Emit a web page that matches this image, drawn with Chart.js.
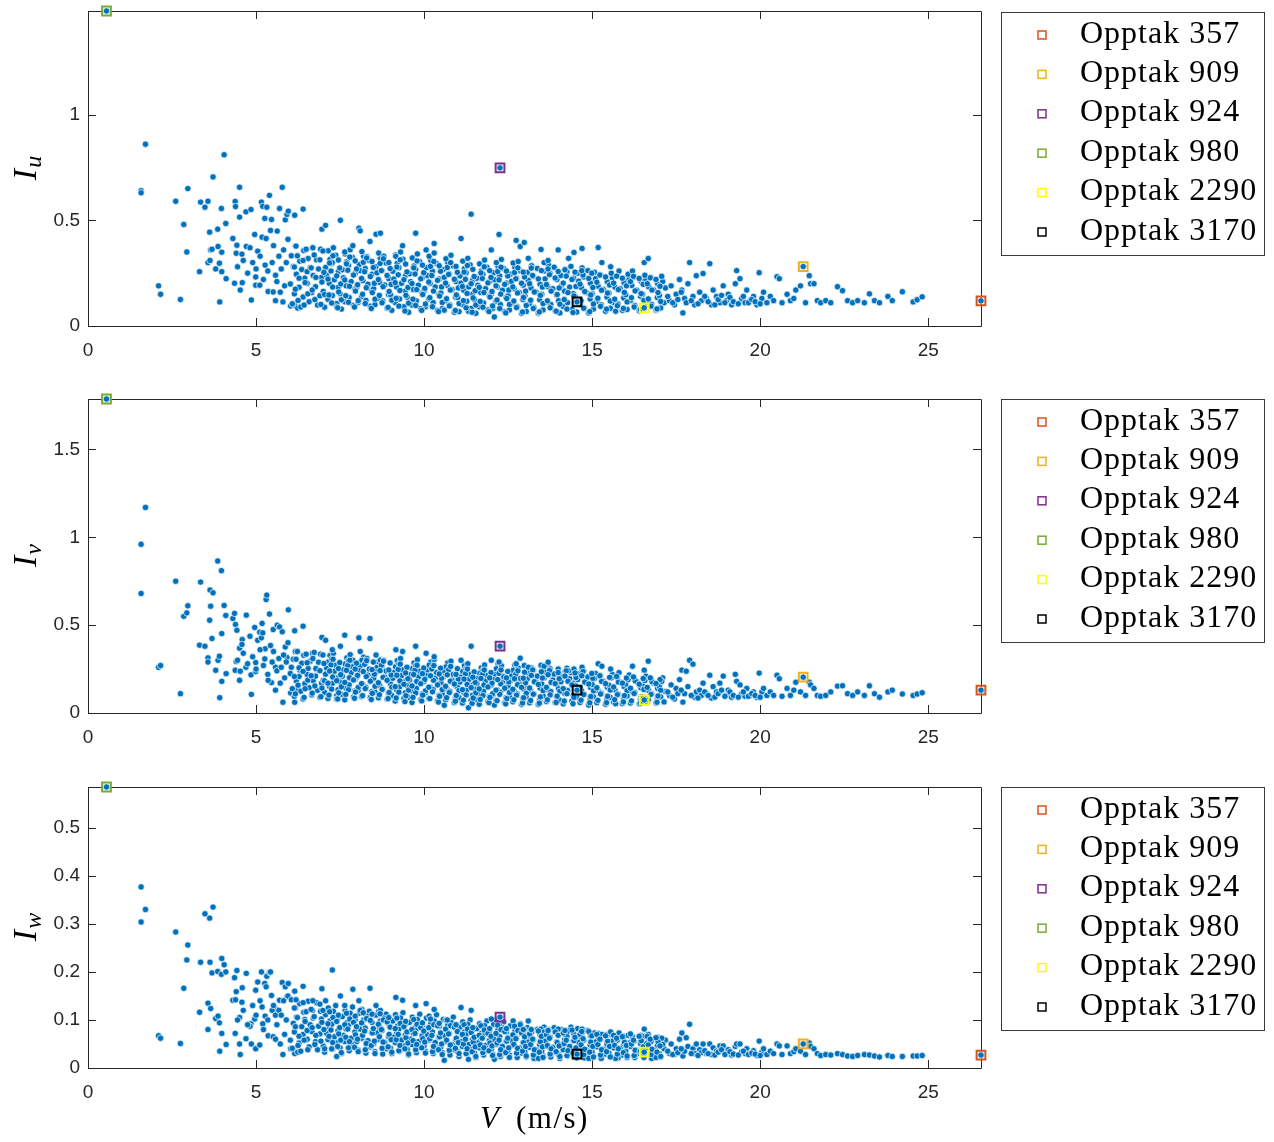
<!DOCTYPE html>
<html>
<head>
<meta charset="utf-8">
<script src="https://cdn.jsdelivr.net/npm/chart.js@4.4.1/dist/chart.umd.min.js"></script>
<style>
  html, body { margin: 0; padding: 0; background: #fff; overflow: hidden; }
  #page { position: relative; width: 1274px; height: 1142px; overflow: hidden; }
  canvas { position: absolute; left: 0; }
</style>
</head>
<body>
<div id="page">
  <canvas id="chartU" width="1274" height="389" style="top:-9px"></canvas>
  <canvas id="chartV" width="1274" height="391" style="top:379px"></canvas>
  <canvas id="chartW" width="1274" height="375" style="top:767px"></canvas>
</div>
<script>
// Mean wind speed V (m/s) of every recording
const speed = [
  // low wind, scattered
  1.58,1.58,1.71,2.10,2.16,2.61,2.75,2.85,2.94,2.97,
  3.32,3.35,3.48,3.57,3.57,3.62,3.63,3.65,3.69,3.72,
  3.80,3.86,3.87,3.91,3.92,3.97,3.98,3.98,4.05,4.10,
  4.11,4.31,4.36,4.38,4.39,4.41,4.43,4.51,4.51,4.53,
  4.59,4.58,4.70,4.71,4.85,4.86,4.82,4.96,4.99,4.99,
  5.05,5.11,5.16,5.18,5.20,5.26,5.27,5.30,5.32,5.40,
  5.43,5.46,5.36,5.51,5.63,5.70,5.78,5.80,5.87,5.92,
  5.96,6.15,6.40,6.03,6.15,6.24,
  4.45,4.62,4.75,4.90,5.00,5.12,5.22,5.35,5.48,5.58,
  5.52,5.62,5.68,5.75,5.82,5.85,5.90,5.95,5.58,5.72,
  // 6 - 7 m/s
  6.08,6.14,6.02,6.20,6.11,6.05,6.17,
  6.33,6.40,6.28,6.45,6.36,6.30,6.42,
  6.58,6.66,6.52,6.70,6.61,6.55,6.68,
  6.83,6.90,6.77,6.95,6.86,6.80,6.92,
  // 7 - 9 m/s
  7.04,7.14,7.00,7.18,7.10,7.07,7.20,7.15,
  7.40,7.27,7.44,7.33,7.45,7.25,7.37,7.30,
  7.54,7.64,7.50,7.68,7.60,7.57,7.70,7.65,
  7.90,7.77,7.94,7.83,7.95,7.75,7.87,7.80,
  8.04,8.14,8.00,8.18,8.10,8.07,8.20,8.15,
  8.40,8.27,8.44,8.33,8.45,8.25,8.37,8.30,
  8.54,8.64,8.50,8.68,8.60,8.57,8.70,8.65,
  8.90,8.77,8.94,8.83,8.95,8.75,8.87,8.80,
  // 9 - 11 m/s
  9.04,9.14,9.00,9.18,9.10,9.07,9.20,9.15,
  9.40,9.27,9.44,9.33,9.45,9.25,9.37,9.30,
  9.54,9.64,9.50,9.68,9.60,9.57,9.70,9.65,
  9.90,9.77,9.94,9.83,9.95,9.75,9.87,9.80,
  10.04,10.14,10.00,10.18,10.10,10.07,10.20,10.15,
  10.40,10.27,10.44,10.33,10.45,10.25,10.37,10.30,
  10.54,10.64,10.50,10.68,10.60,10.57,10.70,10.65,
  10.90,10.77,10.94,10.83,10.95,10.75,10.87,10.80,
  // 11 - 13 m/s
  11.04,11.14,11.00,11.18,11.10,11.07,11.20,11.15,
  11.40,11.27,11.44,11.33,11.45,11.25,11.37,11.30,
  11.54,11.64,11.50,11.68,11.60,11.57,11.70,11.65,
  11.90,11.77,11.94,11.83,11.95,11.75,11.87,11.80,
  12.04,12.14,12.00,12.18,12.10,12.07,12.20,12.15,
  12.40,12.27,12.44,12.33,12.45,12.25,12.37,12.30,
  12.54,12.64,12.50,12.68,12.60,12.57,12.70,12.65,
  12.90,12.77,12.94,12.83,12.95,12.75,12.87,12.80,
  // 13 - 15 m/s
  13.04,13.14,13.00,13.18,13.10,13.07,13.20,
  13.40,13.27,13.44,13.33,13.45,13.25,13.37,
  13.54,13.64,13.50,13.68,13.60,13.57,13.70,
  13.90,13.77,13.94,13.83,13.95,13.75,13.87,
  14.04,14.14,14.00,14.18,14.10,14.07,14.20,
  14.40,14.27,14.44,14.33,14.45,14.25,14.37,
  14.54,14.64,14.50,14.68,14.60,14.57,14.70,
  14.90,14.77,14.94,14.83,14.95,14.75,14.87,
  // 15 - 17 m/s
  15.04,15.14,15.00,15.18,15.10,15.07,
  15.40,15.27,15.44,15.33,15.45,15.25,
  15.54,15.64,15.50,15.68,15.60,15.57,
  15.90,15.77,15.94,15.83,15.95,15.75,
  16.04,16.14,16.00,16.18,16.10,16.07,
  16.40,16.27,16.44,16.33,16.45,16.25,
  16.54,16.64,16.50,16.68,16.60,16.57,
  16.90,16.77,16.94,16.83,16.95,16.75,
  17.04,17.14,17.00,17.18,17.10,17.07,
  // points above the cloud
  6.96,7.07,7.27,7.51,7.64,7.88,8.06,8.10,8.39,8.57,
  8.70,9.16,9.36,9.75,10.06,10.30,11.10,11.40,12.00,12.23,
  12.74,12.86,12.98,13.10,13.48,13.57,13.69,13.99,14.30,14.46,
  14.70,15.18,15.29,15.55,15.80,16.20,16.55,16.67,
  // points below the cloud
  12.09,13.40,14.90,11.32,10.60,7.40,15.70,16.90,
  // high wind tail
  17.30,17.35,17.45,17.50,17.60,17.67,17.70,17.75,17.80,17.85,
  17.90,18.00,18.05,18.10,18.20,18.25,18.30,18.40,18.50,18.55,
  18.60,18.70,18.80,18.90,19.00,19.05,19.15,19.26,19.30,19.40,
  19.45,19.55,19.60,19.70,19.80,19.90,19.97,20.05,20.10,20.20,
  20.30,20.40,20.50,20.57,20.65,20.80,20.90,21.00,21.06,21.20,
  21.35,21.46,21.50,21.60,21.70,21.80,21.95,22.10,22.30,22.45,
  22.60,22.75,22.90,23.10,23.25,23.40,23.55,23.80,23.93,24.23,
  24.55,24.67,24.82,
  17.25,17.40,17.55,17.65,17.95,18.15,18.35,18.45,18.65,18.75,
  18.85,18.95,19.10,19.20,19.35,19.50,19.65,19.75,19.85,20.00,
  // in-between recordings of the dense cloud
  6.25,6.17,6.28,6.14,6.23,6.19,
  6.43,6.54,6.46,6.52,6.40,6.49,
  6.75,6.67,6.78,6.64,6.73,6.69,
  6.93,7.04,6.96,7.02,6.90,6.99,
  7.25,7.17,7.28,7.14,7.23,7.19,7.29,
  7.43,7.54,7.46,7.52,7.40,7.49,7.45,
  7.75,7.67,7.78,7.64,7.73,7.69,7.79,
  7.93,8.04,7.96,8.02,7.90,7.99,7.95,
  8.25,8.17,8.28,8.14,8.23,8.19,8.29,
  8.43,8.54,8.46,8.52,8.40,8.49,8.45,
  8.75,8.67,8.78,8.64,8.73,8.69,8.79,
  8.93,9.04,8.96,9.02,8.90,8.99,8.95,
  9.25,9.17,9.28,9.14,9.23,9.19,9.29,
  9.43,9.54,9.46,9.52,9.40,9.49,9.45,
  9.75,9.67,9.78,9.64,9.73,9.69,9.79,
  9.93,10.04,9.96,10.02,9.90,9.99,9.95,
  10.25,10.17,10.28,10.14,10.23,10.19,10.29,
  10.43,10.54,10.46,10.52,10.40,10.49,10.45,
  10.75,10.67,10.78,10.64,10.73,10.69,10.79,
  10.93,11.04,10.96,11.02,10.90,10.99,10.95,
  11.25,11.17,11.28,11.14,11.23,11.19,11.29,
  11.43,11.54,11.46,11.52,11.40,11.49,11.45,
  11.75,11.67,11.78,11.64,11.73,11.69,11.79,
  11.93,12.04,11.96,12.02,11.90,11.99,11.95,
  12.25,12.17,12.28,12.14,12.23,12.19,12.29,
  12.43,12.54,12.46,12.52,12.40,12.49,12.45,
  12.75,12.67,12.78,12.64,12.73,12.69,12.79,
  12.93,13.04,12.96,13.02,12.90,12.99,12.95,
  13.25,13.17,13.28,13.14,13.23,13.19,
  13.43,13.54,13.46,13.52,13.40,13.49,
  13.75,13.67,13.78,13.64,13.73,13.69,
  13.93,14.04,13.96,14.02,13.90,13.99,
  14.25,14.17,14.28,14.14,14.23,14.19,
  14.43,14.54,14.46,14.52,14.40,14.49,
  14.75,14.67,14.78,14.64,14.73,14.69,
  14.93,15.04,14.96,15.02,14.90,14.99,
  15.25,15.17,15.28,15.14,15.23,
  15.43,15.54,15.46,15.52,15.40,
  15.75,15.67,15.78,15.64,15.73,
  15.93,16.04,15.96,16.02,15.90,
  16.25,16.17,16.28,16.14,16.23,
  16.43,16.54,16.46,16.52,16.40,
  16.75,16.67,16.78,16.64,16.73,
  16.93,17.04,16.96,17.02,16.90
];

// Turbulence intensity, longitudinal
const iu = [
  0.64,0.63,0.86,0.19,0.15,0.59,0.125,0.48,0.35,0.65,
  0.257,0.586,0.562,0.59,0.30,0.444,0.31,0.36,0.363,0.705,
  0.27,0.458,0.376,0.297,0.114,0.556,0.349,0.257,0.81,0.485,
  0.224,0.414,0.202,0.589,0.565,0.344,0.382,0.656,0.515,0.17,
  0.205,0.34,0.54,0.376,0.551,0.123,0.37,0.433,0.232,0.193,
  0.354,0.193,0.586,0.42,0.566,0.509,0.288,0.414,0.562,0.618,
  0.452,0.504,0.163,0.161,0.449,0.556,0.656,0.114,0.502,0.528,
  0.543,0.524,0.553,0.095,0.098,0.085,
  0.28,0.31,0.25,0.30,0.27,0.33,0.22,0.26,0.30,0.24,
  0.38,0.21,0.33,0.27,0.36,0.19,0.30,0.41,0.12,0.16,

  0.105,0.152,0.199,0.245,0.282,0.332,0.378,
  0.09,0.137,0.183,0.226,0.267,0.307,0.357,
  0.115,0.158,0.202,0.239,0.276,0.319,0.369,
  0.099,0.143,0.186,0.23,0.27,0.313,0.363,

  0.089,0.126,0.164,0.202,0.24,0.277,0.315,0.356,
  0.106,0.144,0.182,0.219,0.257,0.295,0.335,0.37,
  0.08,0.115,0.153,0.19,0.228,0.266,0.303,0.341,
  0.097,0.135,0.173,0.21,0.248,0.286,0.324,0.361,
  0.112,0.139,0.186,0.215,0.262,0.291,0.33,0.352,
  0.094,0.121,0.168,0.198,0.245,0.272,0.31,0.328,
  0.101,0.131,0.177,0.206,0.252,0.281,0.319,0.345,
  0.085,0.119,0.149,0.194,0.224,0.262,0.298,0.33,

  0.074,0.111,0.148,0.185,0.222,0.259,0.296,0.336,
  0.091,0.128,0.165,0.202,0.239,0.276,0.316,0.35,
  0.065,0.099,0.136,0.173,0.21,0.247,0.284,0.322,
  0.082,0.119,0.156,0.193,0.23,0.267,0.304,0.341,
  0.091,0.128,0.165,0.202,0.239,0.276,0.31,0.33,
  0.074,0.111,0.148,0.185,0.222,0.259,0.296,0.345,
  0.082,0.119,0.156,0.193,0.23,0.267,0.3,0.318,
  0.065,0.099,0.136,0.173,0.21,0.247,0.284,0.335,

  0.068,0.102,0.135,0.169,0.203,0.237,0.271,0.307,
  0.083,0.117,0.151,0.185,0.219,0.252,0.289,0.32,
  0.06,0.091,0.125,0.159,0.193,0.226,0.26,0.294,
  0.076,0.109,0.143,0.177,0.211,0.245,0.278,0.312,
  0.083,0.117,0.151,0.185,0.219,0.252,0.282,0.3,
  0.068,0.102,0.135,0.169,0.203,0.237,0.271,0.315,
  0.076,0.109,0.143,0.177,0.211,0.245,0.278,0.298,
  0.06,0.091,0.125,0.159,0.193,0.226,0.26,0.305,

  0.069,0.106,0.143,0.18,0.216,0.253,0.285,
  0.06,0.088,0.124,0.161,0.198,0.235,0.272,
  0.076,0.113,0.15,0.187,0.223,0.26,0.29,
  0.072,0.102,0.147,0.176,0.22,0.249,0.278,
  0.062,0.092,0.12,0.165,0.194,0.239,0.268,
  0.078,0.11,0.153,0.184,0.226,0.256,0.282,
  0.066,0.104,0.139,0.182,0.212,0.25,0.275,
  0.063,0.085,0.128,0.158,0.202,0.232,0.262,

  0.08,0.116,0.152,0.188,0.224,0.254,
  0.07,0.1,0.137,0.173,0.209,0.241,
  0.084,0.112,0.156,0.184,0.228,0.25,
  0.074,0.104,0.133,0.177,0.205,0.236,
  0.078,0.12,0.148,0.192,0.22,0.245,
  0.072,0.097,0.141,0.169,0.213,0.232,
  0.082,0.114,0.15,0.186,0.218,0.24,
  0.075,0.102,0.135,0.171,0.2,0.228,
  0.085,0.11,0.145,0.18,0.21,0.235,

  0.458,0.476,0.30,0.50,0.35,0.38,0.463,0.45,0.40,0.434,
  0.439,0.33,0.38,0.439,0.36,0.39,0.414,0.529,0.36,0.433,
  0.405,0.376,0.395,0.32,0.362,0.30,0.31,0.36,0.32,0.348,
  0.367,0.371,0.30,0.28,0.26,0.26,0.30,0.319,

  0.043,0.062,0.062,0.07,0.075,0.09,0.07,0.08,

  0.12,0.19,0.10,0.15,0.22,0.17,0.062,0.13,0.11,0.20,
  0.30,0.14,0.10,0.238,0.16,0.12,0.248,0.13,0.295,0.10,
  0.17,0.14,0.11,0.19,0.12,0.15,0.10,0.20,0.262,0.224,
  0.13,0.11,0.17,0.12,0.14,0.10,0.252,0.13,0.16,0.11,
  0.14,0.12,0.233,0.224,0.11,0.15,0.12,0.13,0.17,0.19,
  0.11,0.238,0.20,0.20,0.12,0.11,0.12,0.11,0.186,0.167,
  0.12,0.11,0.12,0.11,0.152,0.12,0.11,0.14,0.12,0.162,
  0.114,0.124,0.138,
  0.14,0.11,0.125,0.16,0.12,0.105,0.14,0.115,0.10,0.125,
  0.145,0.11,0.135,0.115,0.105,0.14,0.11,0.125,0.115,0.105,

  0.121,0.174,0.226,0.279,0.332,0.378,
  0.099,0.152,0.205,0.257,0.31,0.363,
  0.125,0.17,0.23,0.275,0.336,0.37,
  0.102,0.149,0.208,0.254,0.313,0.355,
  0.109,0.147,0.184,0.222,0.26,0.298,0.332,
  0.086,0.124,0.161,0.199,0.237,0.274,0.312,
  0.112,0.143,0.188,0.218,0.264,0.294,0.326,
  0.09,0.12,0.165,0.195,0.241,0.27,0.308,
  0.106,0.15,0.181,0.225,0.257,0.301,0.322,
  0.083,0.127,0.158,0.202,0.234,0.277,0.305,
  0.11,0.145,0.186,0.22,0.262,0.296,0.318,
  0.088,0.122,0.163,0.197,0.239,0.272,0.30,
  0.094,0.131,0.168,0.205,0.242,0.279,0.313,
  0.071,0.108,0.145,0.182,0.219,0.256,0.293,
  0.097,0.127,0.172,0.201,0.246,0.275,0.308,
  0.074,0.104,0.149,0.178,0.223,0.252,0.288,
  0.091,0.134,0.165,0.208,0.239,0.282,0.305,
  0.068,0.111,0.142,0.185,0.216,0.259,0.285,
  0.095,0.129,0.17,0.203,0.244,0.277,0.30,
  0.073,0.106,0.147,0.18,0.221,0.254,0.282,
  0.086,0.12,0.154,0.187,0.221,0.255,0.286,
  0.065,0.099,0.133,0.167,0.20,0.234,0.268,
  0.089,0.116,0.158,0.183,0.225,0.251,0.28,
  0.068,0.095,0.137,0.163,0.204,0.23,0.262,
  0.083,0.123,0.151,0.19,0.218,0.258,0.278,
  0.062,0.102,0.13,0.17,0.197,0.237,0.26,
  0.087,0.118,0.156,0.185,0.223,0.253,0.275,
  0.066,0.097,0.135,0.165,0.202,0.232,0.255,
  0.083,0.122,0.161,0.20,0.239,0.274,
  0.067,0.106,0.145,0.184,0.223,0.262,
  0.086,0.119,0.165,0.196,0.243,0.27,
  0.07,0.103,0.149,0.18,0.227,0.258,
  0.08,0.125,0.158,0.203,0.236,0.266,
  0.064,0.109,0.142,0.187,0.22,0.255,
  0.084,0.12,0.163,0.198,0.241,0.262,
  0.068,0.104,0.147,0.182,0.225,0.25,
  0.093,0.131,0.169,0.207,0.241,
  0.08,0.118,0.156,0.194,0.232,
  0.096,0.127,0.172,0.203,0.236,
  0.083,0.114,0.159,0.19,0.226,
  0.09,0.134,0.166,0.21,0.235,
  0.077,0.121,0.153,0.197,0.225,
  0.094,0.128,0.17,0.20,0.228,
  0.081,0.116,0.158,0.188,0.22
];

// Turbulence intensity, lateral
const iv = [
  0.96,0.68,1.17,0.26,0.27,0.75,0.11,0.55,0.57,0.61,
  0.386,0.745,0.38,0.314,0.29,0.528,0.70,0.608,0.424,0.684,
  0.243,0.865,0.30,0.323,0.087,0.81,0.18,0.452,0.612,0.555,
  0.224,0.538,0.567,0.243,0.504,0.293,0.471,0.369,0.186,0.238,
  0.418,0.39,0.26,0.557,0.217,0.106,0.437,0.487,0.287,0.236,
  0.414,0.46,0.428,0.51,0.456,0.308,0.365,0.646,0.671,0.563,
  0.384,0.173,0.186,0.475,0.5,0.49,0.462,0.061,0.376,0.316,
  0.587,0.468,0.494,0.114,0.061,0.129,
  0.30,0.34,0.28,0.32,0.25,0.36,0.27,0.22,0.29,0.26,
  0.35,0.24,0.31,0.26,0.33,0.20,0.29,0.40,0.13,0.17,

  0.138,0.095,0.225,0.182,0.306,0.26,0.35,
  0.124,0.08,0.208,0.167,0.283,0.245,0.329,
  0.144,0.103,0.219,0.184,0.295,0.254,0.341,
  0.129,0.089,0.21,0.17,0.289,0.248,0.335,

  0.117,0.083,0.186,0.152,0.255,0.221,0.327,0.29,
  0.099,0.168,0.133,0.237,0.202,0.308,0.271,0.34,
  0.107,0.075,0.176,0.141,0.245,0.21,0.314,0.279,
  0.091,0.16,0.125,0.229,0.194,0.298,0.263,0.332,
  0.128,0.094,0.206,0.163,0.266,0.241,0.318,0.30,
  0.088,0.147,0.121,0.216,0.19,0.285,0.25,0.31,
  0.12,0.087,0.198,0.156,0.259,0.233,0.305,0.292,
  0.079,0.136,0.111,0.206,0.18,0.27,0.24,0.30,

  0.10,0.068,0.165,0.133,0.23,0.198,0.298,0.263,
  0.083,0.148,0.115,0.213,0.18,0.28,0.245,0.31,
  0.09,0.06,0.155,0.123,0.22,0.188,0.285,0.253,
  0.075,0.14,0.108,0.205,0.173,0.27,0.238,0.303,
  0.115,0.083,0.18,0.148,0.245,0.213,0.29,0.272,
  0.068,0.133,0.10,0.198,0.165,0.263,0.23,0.305,
  0.108,0.075,0.173,0.14,0.238,0.205,0.285,0.262,
  0.06,0.123,0.09,0.188,0.155,0.253,0.22,0.295,

  0.087,0.057,0.147,0.117,0.206,0.177,0.269,0.236,
  0.071,0.131,0.101,0.19,0.16,0.252,0.22,0.28,
  0.078,0.05,0.137,0.108,0.197,0.167,0.257,0.227,
  0.064,0.124,0.094,0.183,0.154,0.243,0.213,0.273,
  0.101,0.071,0.16,0.131,0.22,0.19,0.28,0.252,
  0.057,0.117,0.087,0.177,0.147,0.236,0.206,0.269,
  0.094,0.064,0.154,0.124,0.213,0.183,0.273,0.243,
  0.05,0.108,0.078,0.167,0.137,0.227,0.197,0.257,

  0.092,0.058,0.159,0.126,0.226,0.193,0.256,
  0.05,0.109,0.075,0.176,0.142,0.243,0.21,
  0.098,0.065,0.166,0.132,0.233,0.199,0.26,
  0.06,0.122,0.095,0.188,0.162,0.25,0.222,
  0.073,0.052,0.138,0.112,0.206,0.178,0.238,
  0.068,0.128,0.10,0.195,0.169,0.255,0.23,
  0.09,0.06,0.155,0.128,0.222,0.19,0.248,
  0.052,0.105,0.078,0.172,0.145,0.238,0.205,

  0.093,0.059,0.162,0.127,0.225,0.196,
  0.05,0.113,0.079,0.181,0.147,0.212,
  0.089,0.062,0.158,0.131,0.22,0.20,
  0.054,0.108,0.083,0.176,0.151,0.206,
  0.097,0.057,0.165,0.124,0.216,0.19,
  0.052,0.117,0.076,0.178,0.143,0.20,
  0.09,0.061,0.155,0.128,0.21,0.185,
  0.055,0.11,0.08,0.17,0.14,0.195,
  0.092,0.063,0.15,0.122,0.20,0.18,

  0.43,0.414,0.36,0.38,0.443,0.30,0.428,0.35,0.424,0.33,
  0.30,0.36,0.35,0.38,0.34,0.32,0.30,0.38,0.30,0.29,
  0.28,0.312,0.27,0.26,0.272,0.266,0.289,0.25,0.24,0.25,
  0.26,0.28,0.266,0.25,0.23,0.266,0.244,0.295,

  0.045,0.05,0.045,0.03,0.044,0.08,0.053,0.06,

  0.10,0.16,0.08,0.14,0.19,0.244,0.062,0.11,0.238,0.15,
  0.30,0.278,0.09,0.12,0.13,0.10,0.17,0.11,0.215,0.085,
  0.15,0.12,0.17,0.21,0.10,0.13,0.09,0.22,0.18,0.16,
  0.11,0.095,0.14,0.10,0.12,0.09,0.227,0.12,0.14,0.10,
  0.12,0.10,0.215,0.195,0.095,0.14,0.10,0.13,0.175,0.12,
  0.10,0.175,0.16,0.14,0.10,0.095,0.10,0.12,0.153,0.155,
  0.11,0.10,0.12,0.10,0.155,0.11,0.09,0.12,0.13,0.108,
  0.10,0.108,0.115,
  0.12,0.09,0.11,0.13,0.10,0.085,0.12,0.10,0.09,0.11,
  0.13,0.095,0.12,0.10,0.09,0.12,0.095,0.11,0.10,0.09,

  0.158,0.109,0.257,0.208,0.35,0.306,
  0.089,0.187,0.138,0.286,0.237,0.335,
  0.154,0.113,0.253,0.212,0.345,0.31,
  0.093,0.183,0.142,0.282,0.241,0.33,
  0.136,0.102,0.205,0.17,0.274,0.239,0.306,
  0.08,0.149,0.115,0.218,0.184,0.287,0.253,
  0.132,0.106,0.201,0.174,0.27,0.243,0.30,
  0.084,0.145,0.119,0.214,0.188,0.283,0.25,
  0.139,0.099,0.208,0.167,0.277,0.236,0.298,
  0.077,0.152,0.112,0.221,0.181,0.29,0.247,
  0.134,0.104,0.203,0.172,0.272,0.241,0.295,
  0.082,0.147,0.117,0.216,0.186,0.285,0.245,
  0.118,0.085,0.183,0.15,0.248,0.215,0.278,
  0.065,0.13,0.098,0.195,0.163,0.26,0.228,
  0.114,0.089,0.179,0.154,0.244,0.219,0.272,
  0.069,0.126,0.102,0.191,0.167,0.256,0.224,
  0.121,0.082,0.186,0.147,0.251,0.212,0.27,
  0.062,0.133,0.095,0.198,0.16,0.255,0.222,
  0.116,0.087,0.181,0.152,0.246,0.217,0.265,
  0.067,0.128,0.10,0.193,0.165,0.252,0.22,
  0.103,0.073,0.163,0.133,0.223,0.193,0.25,
  0.055,0.114,0.085,0.174,0.144,0.234,0.204,
  0.099,0.077,0.159,0.137,0.219,0.197,0.245,
  0.059,0.11,0.089,0.17,0.148,0.23,0.20,
  0.106,0.07,0.166,0.13,0.226,0.19,0.245,
  0.052,0.117,0.082,0.177,0.141,0.237,0.20,
  0.101,0.075,0.161,0.135,0.221,0.195,0.24,
  0.057,0.112,0.087,0.172,0.146,0.232,0.198,
  0.107,0.071,0.178,0.142,0.245,0.214,
  0.056,0.128,0.092,0.199,0.163,0.235,
  0.103,0.075,0.174,0.146,0.241,0.218,
  0.06,0.124,0.096,0.195,0.167,0.23,
  0.11,0.068,0.181,0.139,0.24,0.21,
  0.053,0.131,0.089,0.202,0.16,0.228,
  0.105,0.073,0.176,0.144,0.236,0.212,
  0.058,0.126,0.094,0.197,0.165,0.225,
  0.108,0.072,0.18,0.144,0.212,
  0.059,0.131,0.095,0.203,0.167,
  0.104,0.076,0.176,0.148,0.208,
  0.063,0.127,0.099,0.199,0.17,
  0.111,0.069,0.183,0.141,0.205,
  0.056,0.134,0.092,0.196,0.164,
  0.106,0.075,0.178,0.146,0.20,
  0.061,0.129,0.097,0.19,0.168
];

// Turbulence intensity, vertical
const iw = [
  0.377,0.304,0.33,0.067,0.062,0.283,0.051,0.166,0.225,0.256,
  0.116,0.22,0.321,0.135,0.08,0.312,0.22,0.124,0.198,0.335,
  0.103,0.201,0.108,0.094,0.035,0.195,0.072,0.228,0.215,0.20,
  0.049,0.141,0.188,0.072,0.142,0.159,0.203,0.105,0.05,0.028,
  0.167,0.137,0.061,0.197,0.092,0.05,0.087,0.102,0.04,0.162,
  0.179,0.048,0.20,0.127,0.092,0.176,0.108,0.169,0.191,0.199,
  0.20,0.151,0.067,0.065,0.122,0.141,0.178,0.028,0.169,0.148,
  0.176,0.16,0.17,0.04,0.03,0.033,
  0.10,0.12,0.09,0.13,0.11,0.14,0.08,0.10,0.12,0.11,
  0.13,0.09,0.12,0.11,0.14,0.07,0.10,0.15,0.06,0.05,

  0.041,0.075,0.058,0.106,0.093,0.142,0.125,
  0.035,0.07,0.052,0.101,0.086,0.134,0.116,
  0.044,0.076,0.06,0.104,0.09,0.139,0.12,
  0.038,0.071,0.055,0.102,0.087,0.136,0.118,

  0.033,0.059,0.046,0.085,0.072,0.111,0.098,0.125,
  0.052,0.039,0.078,0.065,0.104,0.091,0.13,0.118,
  0.03,0.055,0.042,0.081,0.068,0.107,0.094,0.12,
  0.049,0.036,0.075,0.062,0.101,0.088,0.127,0.114,
  0.037,0.062,0.055,0.088,0.081,0.114,0.10,0.122,
  0.044,0.031,0.074,0.057,0.095,0.083,0.118,0.108,
  0.034,0.06,0.051,0.085,0.073,0.11,0.098,0.119,
  0.04,0.029,0.066,0.053,0.091,0.078,0.112,0.104,

  0.030,0.053,0.041,0.075,0.064,0.098,0.087,0.111,
  0.046,0.035,0.069,0.058,0.092,0.081,0.115,0.104,
  0.027,0.049,0.038,0.072,0.06,0.095,0.083,0.106,
  0.044,0.032,0.067,0.055,0.089,0.078,0.112,0.101,
  0.035,0.058,0.046,0.081,0.069,0.104,0.092,0.108,
  0.041,0.030,0.064,0.053,0.087,0.075,0.111,0.098,
  0.032,0.055,0.044,0.078,0.067,0.101,0.089,0.10,
  0.038,0.027,0.06,0.049,0.083,0.072,0.106,0.095,

  0.024,0.045,0.034,0.065,0.055,0.085,0.075,0.096,
  0.039,0.029,0.059,0.049,0.08,0.07,0.10,0.091,
  0.022,0.042,0.031,0.062,0.052,0.082,0.072,0.092,
  0.037,0.027,0.057,0.047,0.077,0.067,0.098,0.088,
  0.029,0.049,0.039,0.07,0.059,0.091,0.08,0.10,
  0.034,0.024,0.055,0.045,0.075,0.065,0.096,0.085,
  0.027,0.047,0.037,0.067,0.057,0.088,0.077,0.098,
  0.031,0.022,0.052,0.042,0.072,0.062,0.092,0.082,

  0.023,0.043,0.033,0.064,0.054,0.084,0.075,
  0.028,0.02,0.049,0.038,0.069,0.059,0.08,
  0.025,0.045,0.035,0.066,0.056,0.085,0.077,
  0.033,0.023,0.054,0.043,0.075,0.064,0.084,
  0.02,0.038,0.028,0.059,0.049,0.08,0.069,
  0.035,0.025,0.056,0.045,0.077,0.066,0.085,
  0.024,0.042,0.034,0.062,0.053,0.082,0.073,
  0.027,0.021,0.048,0.037,0.067,0.058,0.078,

  0.023,0.044,0.033,0.065,0.054,0.073,
  0.029,0.02,0.05,0.039,0.07,0.06,
  0.025,0.042,0.031,0.062,0.056,0.07,
  0.027,0.021,0.048,0.041,0.066,0.058,
  0.022,0.045,0.035,0.063,0.052,0.068,
  0.03,0.022,0.051,0.037,0.068,0.056,
  0.024,0.043,0.032,0.06,0.05,0.066,
  0.028,0.02,0.046,0.038,0.064,0.055,
  0.023,0.04,0.03,0.058,0.049,0.062,

  0.165,0.14,0.204,0.15,0.13,0.164,0.14,0.12,0.166,0.13,
  0.12,0.147,0.141,0.13,0.134,0.122,0.126,0.12,0.102,0.09,
  0.085,0.09,0.08,0.098,0.081,0.075,0.08,0.081,0.077,0.07,
  0.081,0.072,0.07,0.075,0.073,0.065,0.081,0.07,

  0.018,0.02,0.02,0.018,0.016,0.024,0.02,0.022,

  0.03,0.05,0.028,0.04,0.06,0.073,0.025,0.035,0.063,0.045,
  0.091,0.04,0.03,0.05,0.038,0.032,0.05,0.03,0.05,0.028,
  0.042,0.035,0.046,0.046,0.03,0.038,0.027,0.045,0.05,0.05,
  0.034,0.03,0.04,0.031,0.036,0.026,0.056,0.033,0.04,0.028,
  0.035,0.03,0.05,0.046,0.028,0.046,0.03,0.034,0.04,0.035,
  0.028,0.052,0.045,0.04,0.03,0.026,0.028,0.027,0.03,0.028,
  0.025,0.024,0.026,0.028,0.027,0.025,0.023,0.026,0.024,0.024,
  0.025,0.025,0.026,
  0.035,0.028,0.032,0.04,0.03,0.026,0.036,0.03,0.027,0.033,
  0.038,0.028,0.034,0.029,0.027,0.035,0.028,0.031,0.029,0.026,

  0.047,0.086,0.066,0.125,0.105,0.142,
  0.058,0.038,0.097,0.078,0.136,0.117,
  0.049,0.084,0.068,0.122,0.107,0.14,
  0.056,0.04,0.095,0.08,0.133,0.12,
  0.04,0.066,0.053,0.092,0.079,0.117,0.105,
  0.045,0.032,0.071,0.058,0.097,0.084,0.11,
  0.042,0.064,0.055,0.09,0.081,0.114,0.102,
  0.043,0.034,0.069,0.06,0.095,0.086,0.108,
  0.038,0.068,0.051,0.094,0.077,0.115,0.103,
  0.047,0.03,0.073,0.056,0.099,0.082,0.112,
  0.041,0.065,0.054,0.091,0.08,0.113,0.10,
  0.044,0.033,0.07,0.059,0.096,0.085,0.105,
  0.036,0.059,0.047,0.082,0.07,0.104,0.093,
  0.04,0.029,0.063,0.052,0.086,0.075,0.097,
  0.038,0.057,0.049,0.08,0.072,0.101,0.091,
  0.042,0.031,0.061,0.054,0.084,0.077,0.094,
  0.034,0.061,0.045,0.084,0.068,0.102,0.09,
  0.038,0.028,0.065,0.05,0.088,0.073,0.093,
  0.037,0.058,0.048,0.081,0.071,0.10,0.088,
  0.041,0.03,0.062,0.053,0.085,0.076,0.09,
  0.03,0.05,0.04,0.07,0.06,0.09,0.081,
  0.034,0.024,0.054,0.044,0.074,0.064,0.084,
  0.032,0.048,0.042,0.068,0.062,0.088,0.079,
  0.036,0.026,0.052,0.046,0.072,0.066,0.082,
  0.028,0.052,0.038,0.072,0.058,0.089,0.08,
  0.032,0.022,0.056,0.042,0.076,0.062,0.082,
  0.031,0.049,0.041,0.069,0.061,0.087,0.078,
  0.035,0.025,0.053,0.045,0.073,0.065,0.08,
  0.027,0.049,0.038,0.071,0.06,0.08,
  0.033,0.022,0.055,0.044,0.077,0.066,
  0.029,0.047,0.04,0.069,0.062,0.078,
  0.034,0.024,0.053,0.046,0.075,0.068,
  0.026,0.051,0.036,0.073,0.058,0.078,
  0.031,0.021,0.057,0.042,0.079,0.064,
  0.028,0.048,0.039,0.07,0.061,0.076,
  0.033,0.023,0.054,0.045,0.076,0.067,
  0.027,0.049,0.038,0.07,0.06,
  0.034,0.023,0.056,0.045,0.067,
  0.029,0.047,0.04,0.068,0.062,
  0.032,0.025,0.054,0.047,0.065,
  0.026,0.05,0.037,0.071,0.058,
  0.035,0.022,0.057,0.044,0.066,
  0.028,0.048,0.039,0.066,0.06,
  0.033,0.024,0.055,0.046,0.063
];

// Highlighted recordings
const highlightNames = ['Opptak 357', 'Opptak 909', 'Opptak 924', 'Opptak 980', 'Opptak 2290', 'Opptak 3170'];
const highlightColors = ['#D95319', '#EDB120', '#7E2F8E', '#77AC30', '#FFFF00', '#000000'];
const highlightSpeed = [26.57, 21.28, 12.26, 0.55, 16.55, 14.55];
const highlightIu = [0.119, 0.281, 0.748, 1.49, 0.086, 0.114];
const highlightIv = [0.13, 0.204, 0.38, 1.787, 0.074, 0.13];
const highlightIw = [0.027, 0.05, 0.106, 0.585, 0.033, 0.029];

// Axis ticks
const speedTicks = [0, 5, 10, 15, 20, 25];
const iuTicks = [0, 0.5, 1];
const ivTicks = [0, 0.5, 1, 1.5];
const iwTicks = [0, 0.1, 0.2, 0.3, 0.4, 0.5];

const AXIS = '#262626';
const SERIF = '"Liberation Serif", "Times New Roman", serif';
const TICK_FONT = { family: '"Liberation Sans", Arial, sans-serif', size: 19 };
const TICK_LEN = 8;
const AREA_LEFT = 88, AREA_RIGHT = 981, AREA_TOP = 20;

// box, inward ticks, axis labels and legend, drawn MATLAB style
const decor = {
  id: 'decor',
  beforeDatasetsDraw(chart) {
    const { ctx, chartArea: a, scales: { x, y } } = chart;
    ctx.save();
    ctx.strokeStyle = AXIS;
    ctx.lineWidth = 1;
    ctx.beginPath();
    ctx.rect(Math.round(a.left) + 0.5, Math.round(a.top) + 0.5, Math.round(a.right - a.left), Math.round(a.bottom - a.top));
    x.ticks.forEach(t => {
      const px = Math.round(x.getPixelForValue(t.value)) + 0.5;
      ctx.moveTo(px, a.bottom); ctx.lineTo(px, a.bottom - TICK_LEN);
      ctx.moveTo(px, a.top); ctx.lineTo(px, a.top + TICK_LEN);
    });
    y.ticks.forEach(t => {
      const py = Math.round(y.getPixelForValue(t.value)) + 0.5;
      ctx.moveTo(a.left, py); ctx.lineTo(a.left + TICK_LEN, py);
      ctx.moveTo(a.right, py); ctx.lineTo(a.right - TICK_LEN, py);
    });
    ctx.stroke();
    ctx.restore();
  },
  afterDraw(chart, args, opts) {
    const { ctx, chartArea: a } = chart;
    ctx.save();
    ctx.fillStyle = '#000';

    // y label: I with subscript
    const cy = (a.top + a.bottom) / 2;
    ctx.translate(36, cy);
    ctx.rotate(-Math.PI / 2);
    ctx.font = 'italic 34px ' + SERIF;
    const wI = ctx.measureText('I').width;
    ctx.font = 'italic 24px ' + SERIF;
    const wS = ctx.measureText(opts.sub).width;
    const start = -(wI + wS) / 2;
    ctx.textBaseline = 'alphabetic';
    ctx.font = 'italic 34px ' + SERIF;
    ctx.fillText('I', start, 0);
    ctx.font = 'italic 24px ' + SERIF;
    ctx.fillText(opts.sub, start + wI + 1, 5);
    ctx.setTransform(1, 0, 0, 1, 0, 0);

    // legend
    const lx = a.right + 20, ly = a.top + (opts.legendDy || 0);
    ctx.strokeStyle = '#3a3a3a';
    ctx.lineWidth = 1;
    ctx.strokeRect(Math.round(lx) + 0.5, Math.round(ly) + 0.5, 263, 243);
    ctx.font = '32px ' + SERIF;
    ctx.letterSpacing = '1px';
    ctx.textBaseline = 'alphabetic';
    chart.data.datasets.filter(d => d.label).forEach((d, i) => {
      const my = ly + 23 + i * 39.4;
      ctx.strokeStyle = d.pointBorderColor;
      ctx.lineWidth = 1.5;
      ctx.strokeRect(lx + 37, my - 4, 8, 8);
      ctx.fillText(d.label, lx + 79, ly + 30.5 + i * 39.4);
    });
    ctx.letterSpacing = '0px';

    // x label
    if (opts.xlabelBase) {
      const base = opts.xlabelBase;
      ctx.font = 'italic 31px ' + SERIF;
      const wV = ctx.measureText('V').width;
      ctx.font = '31px ' + SERIF;
      ctx.letterSpacing = '1.5px';
      const wU = ctx.measureText('(m/s)').width;
      const gap = 17;
      const x0 = (a.left + a.right) / 2 - (wV + gap + wU) / 2;
      ctx.letterSpacing = '0px';
      ctx.font = 'italic 31px ' + SERIF;
      ctx.fillText('V', x0, base);
      ctx.font = '31px ' + SERIF;
      ctx.letterSpacing = '1.5px';
      ctx.fillText('(m/s)', x0 + wV + gap, base);
    }
    ctx.restore();
  }
};

const n = Math.min(speed.length, iu.length, iv.length, iw.length);
const xMax = Math.max(...highlightSpeed);

function buildChart(canvasId, values, hlValues, yMax, yTicks, sub, areaBottom, xlabelBase, legendDy) {
  const canvas = document.getElementById(canvasId);
  const H = canvas.height;
  const cloudPts = [];
  for (let i = 0; i < n; i++) cloudPts.push({ x: speed[i], y: values[i] });
  highlightSpeed.forEach((v, i) => cloudPts.push({ x: v, y: hlValues[i] }));

  const cloud = {
    label: '',
    data: cloudPts,
    pointStyle: 'circle',
    pointRadius: 3.2,
    pointBackgroundColor: '#0072BD',
    pointBorderColor: '#ffffff',
    pointBorderWidth: 0.7,
    order: 1,
    clip: false
  };
  const marks = highlightNames.map((name, i) => ({
    label: name,
    data: [{ x: highlightSpeed[i], y: hlValues[i] }],
    pointStyle: 'rect',
    pointRadius: 6.2,
    pointBorderWidth: 2,
    pointBorderColor: highlightColors[i],
    pointBackgroundColor: 'rgba(0,0,0,0)',
    order: 0,
    clip: false
  }));

  return new Chart(canvas, {
    type: 'scatter',
    data: { datasets: [cloud, ...marks] },
    options: {
      responsive: false,
      animation: false,
      events: [],
      layout: { padding: { top: AREA_TOP, right: 1274 - AREA_RIGHT, left: 0, bottom: 0 } },
      scales: {
        x: {
          type: 'linear', min: 0, max: xMax,
          grid: { display: false, drawTicks: false },
          border: { display: false },
          afterBuildTicks: s => { s.ticks = speedTicks.map(v => ({ value: v })); },
          afterFit: s => { s.height = H - areaBottom; },
          ticks: { font: TICK_FONT, color: AXIS, padding: 13, autoSkip: false, maxRotation: 0, callback: v => String(v) }
        },
        y: {
          type: 'linear', min: 0, max: yMax,
          grid: { display: false, drawTicks: false },
          border: { display: false },
          afterBuildTicks: s => { s.ticks = yTicks.map(v => ({ value: v })); },
          afterFit: s => { s.width = AREA_LEFT; },
          ticks: { font: TICK_FONT, color: AXIS, padding: 8, autoSkip: false, callback: v => String(v) }
        }
      },
      plugins: {
        legend: { display: false },
        tooltip: { enabled: false },
        decor: { sub: sub, xlabelBase: xlabelBase, legendDy: legendDy }
      }
    },
    plugins: [decor]
  });
}

// canvas tops: -9, 379, 767 -> plot areas at 11, 399, 787 on the page
buildChart('chartU', iu, highlightIu, 1.49, iuTicks, 'u', 335, 0, 1);
buildChart('chartV', iv, highlightIv, 1.787, ivTicks, 'v', 334, 0, 0);
buildChart('chartW', iw, highlightIw, 0.585, iwTicks, 'w', 301, 361, 0);
</script>
</body>
</html>
